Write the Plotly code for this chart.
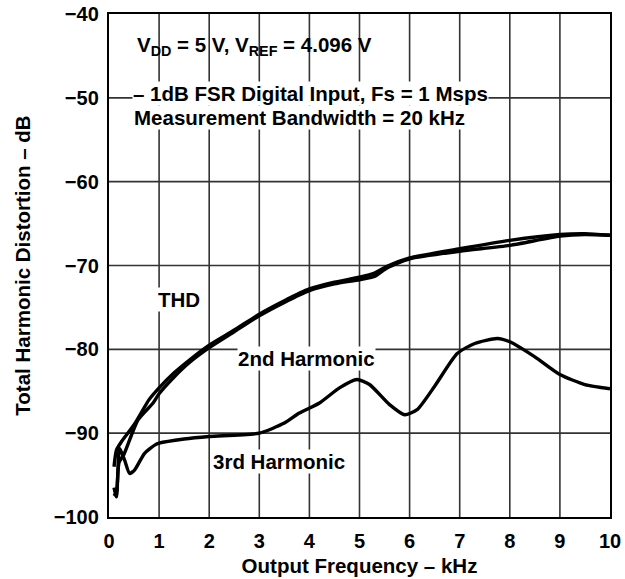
import plotly.graph_objects as go

# THD curve
thd_x = [0.1, 0.15, 0.25, 0.5, 0.8, 1.0, 1.3, 1.6, 2.0, 2.5, 3.0, 3.5, 4.0, 4.5, 5.0, 5.3, 5.55, 6.0, 7.0, 8.0, 9.0, 9.5, 10.0]
thd_y = [-94.0, -92.0, -91.0, -89.0, -86.0, -84.6, -82.8, -81.3, -79.5, -77.7, -75.8, -74.2, -72.8, -72.0, -71.4, -70.9, -70.1, -69.1, -68.0, -67.0, -66.3, -66.2, -66.4]

# 2nd harmonic curve
h2_x = [0.1, 0.15, 0.2, 0.3, 0.58, 0.88, 1.0, 1.3, 1.6, 2.0, 2.5, 3.0, 3.5, 4.0, 4.5, 5.0, 5.3, 5.55, 6.0, 7.0, 8.0, 9.0, 9.5, 10.0]
h2_y = [-97.5, -97.0, -93.5, -92.5, -88.4, -86.4, -85.3, -83.3, -81.6, -79.8, -77.9, -76.0, -74.4, -73.0, -72.2, -71.7, -71.3, -70.3, -69.2, -68.3, -67.6, -66.5, -66.3, -66.4]

# 3rd harmonic curve
h3_x = [0.1, 0.15, 0.21, 0.31, 0.41, 0.51, 0.71, 0.92, 1.0, 1.5, 2.0, 3.0, 3.5, 3.8, 4.2, 4.6, 4.95, 5.2, 5.6, 5.9, 6.15, 6.5, 6.95, 7.3, 7.75, 8.0, 8.5, 9.0, 9.5, 10.0]
h3_y = [-96.5, -97.6, -91.8, -93.2, -94.8, -94.4, -92.4, -91.4, -91.2, -90.7, -90.4, -90.0, -88.8, -87.6, -86.4, -84.6, -83.6, -84.2, -86.6, -87.8, -87.2, -84.4, -80.5, -79.3, -78.7, -79.1, -80.9, -83.0, -84.2, -84.7]

x_ticks = list(range(0, 11))
y_ticks = [-100, -90, -80, -70, -60, -50, -40]
x_range = [0, 10]
y_range = [-100, -40]

FONT = "Liberation Sans, Arial, sans-serif"
GRID = "#333333"

fig = go.Figure()

# grid lines built from the tick arrays
for xv in x_ticks[1:-1]:
    fig.add_shape(type="line", xref="x", yref="y", x0=xv, x1=xv, y0=y_range[0], y1=y_range[1],
                  line=dict(color=GRID, width=1.6), layer="below")
for yv in y_ticks[1:-1]:
    fig.add_shape(type="line", xref="x", yref="y", x0=x_range[0], x1=x_range[1], y0=yv, y1=yv,
                  line=dict(color=GRID, width=1.6), layer="below")

for xs, ys in [(h3_x, h3_y), (h2_x, h2_y), (thd_x, thd_y)]:
    fig.add_trace(go.Scatter(x=xs, y=ys, mode="lines",
                             line=dict(color="black", width=3.4, shape="spline", smoothing=0.6),
                             showlegend=False, hoverinfo="skip"))

def ann(text, x, y, bg=None):
    fig.add_annotation(x=x, y=y, xref="x", yref="y", text=text, showarrow=False,
                       xanchor="left", yanchor="middle",
                       font=dict(family=FONT, size=20.5, color="black", weight="bold"),
                       bgcolor=bg if bg else "rgba(0,0,0,0)", borderpad=0)

ann("V<sub>DD</sub> = 5 V, V<sub>REF</sub> = 4.096 V", 0.53, -43.8)
ann("– 1dB FSR Digital Input, Fs = 1 Msps", 0.465, -49.5, "white")
ann("Measurement Bandwidth = 20 kHz", 0.485, -52.3, "white")
ann("THD", 0.965, -74.0, "white")
ann("2nd Harmonic", 2.56, -81.1, "white")
ann("3rd Harmonic", 2.05, -93.4, "white")

tickfont = dict(family=FONT, size=20, color="black", weight="bold")
titlefont = dict(family=FONT, size=20.5, color="black", weight="bold")

fig.update_layout(
    width=625, height=579, autosize=False,
    margin=dict(l=109, r=15, t=14, b=62, pad=0),
    paper_bgcolor="white", plot_bgcolor="white",
    xaxis=dict(range=x_range, tickmode="array", tickvals=x_ticks,
               ticktext=[str(v) for v in x_ticks], ticks="", ticklabelstandoff=5,
               showgrid=False, zeroline=False,
               showline=True, linecolor="black", linewidth=2.4, mirror=True,
               automargin=False, tickfont=tickfont,
               title=dict(text="Output Frequency – kHz", standoff=7, font=titlefont)),
    yaxis=dict(range=y_range, tickmode="array", tickvals=y_ticks,
               ticktext=["\u2212" + str(-v) for v in y_ticks], ticks="", ticklabelstandoff=4,
               showgrid=False, zeroline=False,
               showline=True, linecolor="black", linewidth=2.4, mirror=True,
               automargin=False, tickfont=tickfont,
               title=dict(text="Total Harmonic Distortion – dB", standoff=18, font=titlefont)),
)

fig.write_html("out.html", config={"displayModeBar": False},
               post_script="document.body.style.margin='0px';")
